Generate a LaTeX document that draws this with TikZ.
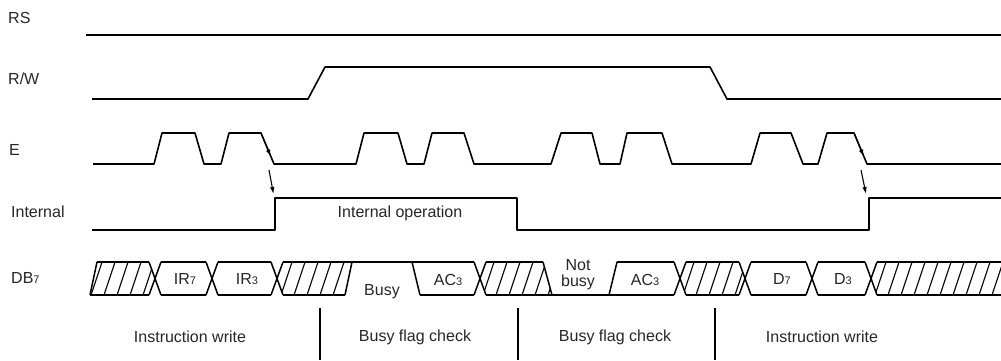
\documentclass[tikz,border=0pt]{standalone}
\usepackage{fontspec}
\setmainfont{Liberation Sans}
\usetikzlibrary{arrows.meta}
\newcommand\subd[1]{\raisebox{-0.6pt}{\fontsize{11}{11}\selectfont #1}}
\begin{document}
\begin{tikzpicture}[x=1pt,y=-1pt,
  sig/.style={line width=1.6pt, line join=round},
  busl/.style={line width=1.5pt, line join=round},
  hatchl/.style={line width=1.1pt},
  divl/.style={line width=1.3pt},
  lbl/.style={font=\fontsize{16}{19}\selectfont, inner sep=0pt, text=black!85},
  arr/.style={line width=1.1pt, -{Latex[length=7pt,width=4.5pt]}}]
\useasboundingbox (0,0) rectangle (1001,360);
\def\T{262}\def\B{295}\def\M{278.5}\def\dx{6}
% left labels
\node[lbl, anchor=west] (lrs) at (8,18) {RS};
\node[lbl, anchor=west] (lrw) at (8,79) {R/W};
\node[lbl, anchor=west] (le) at (9,150) {E};
\node[lbl, anchor=west] (lint) at (11,212) {Internal};
\node[lbl, anchor=west] (ldb) at (11,278) {DB\subd{7}};
% RS
\draw[sig] (86,35) -- (1001,35);
% R/W
\draw[sig] (92,99) -- (308,99) -- (325,67) -- (710,67) -- (727,99) -- (1001,99);
% E
\draw[sig] (93,164)
  -- (154,164) -- (162,133) -- (195,133) -- (204,164)
  -- (221,164) -- (229,133) -- (261,133) -- (274,164)
  -- (356,164) -- (364,133) -- (398,133) -- (407,164)
  -- (424,164) -- (432,133) -- (464,133) -- (474,164)
  -- (551,164) -- (561,133) -- (592,133) -- (600,164)
  -- (620,164) -- (627,133) -- (662,133) -- (672,164)
  -- (751,164) -- (760,133) -- (791,133) -- (803,164)
  -- (818,164) -- (827,133) -- (854,133) -- (867,164)
  -- (1001,164);
% Internal
\draw[sig] (92,230) -- (275,230) -- (275,198) -- (517,198) -- (517,230)
  -- (869,230) -- (869,198) -- (1001,198);
\node[lbl] (iop) at (400,213) {Internal operation};
% arrows E -> Internal
\coordinate (ea1) at (261,133); \coordinate (eb1) at (270.8,156.5);
\coordinate (ec1) at (269,170); \coordinate (ed1) at (273.5,194);
\draw[arr] (ea1) -- (eb1);
\draw[arr] (ec1) -- (ed1);
\coordinate (ea2) at (854,133); \coordinate (eb2) at (863.8,156.5);
\coordinate (ec2) at (861,170); \coordinate (ed2) at (866,194);
\draw[arr] (ea2) -- (eb2);
\draw[arr] (ec2) -- (ed2);
% DB7 bus
\def\ca{155}\def\cb{212}\def\cc{277}\def\cd{480}\def\ce{680}\def\cf{745}\def\cg{812}\def\ch{871}
% hatching
\begin{scope}
\clip (90,\B) -- (97,\T) -- (\ca-\dx,\T) -- (\ca,\M) -- (\ca-\dx,\B) -- cycle;
\foreach \k in {78,91,...,160} \draw[hatchl] (\k,\B) -- ++(11,-33);
\end{scope}
\begin{scope}
\clip (\cc,\M) -- (\cc+\dx,\T) -- (352,\T) -- (345,\B) -- (\cc+\dx,\B) -- cycle;
\foreach \k in {268,281,...,350} \draw[hatchl] (\k,\B) -- ++(11,-33);
\end{scope}
\begin{scope}
\clip (\cd,\M) -- (\cd+\dx,\T) -- (543,\T) -- (552,\B) -- (\cd+\dx,\B) -- cycle;
\foreach \k in {470,483,...,560} \draw[hatchl] (\k,\B) -- ++(11,-33);
\end{scope}
\begin{scope}
\clip (\ce,\M) -- (\ce+\dx,\T) -- (\cf-\dx,\T) -- (\cf,\M) -- (\cf-\dx,\B) -- (\ce+\dx,\B) -- cycle;
\foreach \k in {670,683,...,750} \draw[hatchl] (\k,\B) -- ++(11,-33);
\end{scope}
\begin{scope}
\clip (\ch,\M) -- (\ch+\dx,\T) -- (1001,\T) -- (1001,\B) -- (\ch+\dx,\B) -- cycle;
\foreach \k in {862,875,...,1005} \draw[hatchl] (\k,\B) -- ++(11,-33);
\end{scope}
% top line
\draw[busl] (97,\T) -- (\ca-\dx,\T);
\draw[busl] (\ca+\dx,\T) -- (\cb-\dx,\T);
\draw[busl] (\cb+\dx,\T) -- (\cc-\dx,\T);
\draw[busl] (\cc+\dx,\T) -- (\cd-\dx,\T);
\draw[busl] (\cd+\dx,\T) -- (543,\T);
\draw[busl] (617,\T) -- (\ce-\dx,\T);
\draw[busl] (\ce+\dx,\T) -- (\cf-\dx,\T);
\draw[busl] (\cf+\dx,\T) -- (\cg-\dx,\T);
\draw[busl] (\cg+\dx,\T) -- (\ch-\dx,\T);
\draw[busl] (\ch+\dx,\T) -- (1001,\T);
% bottom line
\draw[busl] (90,\B) -- (\ca-\dx,\B);
\draw[busl] (\ca+\dx,\B) -- (\cb-\dx,\B);
\draw[busl] (\cb+\dx,\B) -- (\cc-\dx,\B);
\draw[busl] (\cc+\dx,\B) -- (345,\B);
\draw[busl] (420,\B) -- (\cd-\dx,\B);
\draw[busl] (\cd+\dx,\B) -- (\ce-\dx,\B);
\draw[busl] (\ce+\dx,\B) -- (\cf-\dx,\B);
\draw[busl] (\cf+\dx,\B) -- (\cg-\dx,\B);
\draw[busl] (\cg+\dx,\B) -- (\ch-\dx,\B);
\draw[busl] (\ch+\dx,\B) -- (1001,\B);
% crosses
\foreach \c in {\ca,\cb,\cc,\cd,\ce,\cf,\cg,\ch} {
  \draw[busl] (\c-\dx,\T) -- (\c+\dx,\B);
  \draw[busl] (\c-\dx,\B) -- (\c+\dx,\T);
}
% slants
\draw[busl] (90,\B) -- (97,\T);
\draw[busl] (345,\B) -- (352,\T);
\draw[busl] (412,\T) -- (420,\B);
\draw[busl] (543,\T) -- (552,\B);
\draw[busl] (609,\B) -- (617,\T);
% bus texts
\node[lbl] (tir7) at (185,279) {IR\subd{7}};
\node[lbl] (tir3) at (247,279) {IR\subd{3}};
\node[lbl] (tbusy) at (382,292) {Busy};
\node[lbl] (tac1) at (448,280) {AC\subd{3}};
\node[lbl] (tnot) at (578,265) {Not};
\node[lbl] (tnbusy) at (578,282) {busy};
\node[lbl] (tac2) at (645,280) {AC\subd{3}};
\node[lbl] (td7) at (782,279) {D\subd{7}};
\node[lbl] (td3) at (843,279) {D\subd{3}};
% dividers
\coordinate (d1a) at (320,308); \coordinate (d1b) at (320,360);
\coordinate (d2a) at (518,308); \coordinate (d2b) at (518,360);
\coordinate (d3a) at (715,308); \coordinate (d3b) at (715,360);
\draw[divl] (d1a) -- (d1b);
\draw[divl] (d2a) -- (d2b);
\draw[divl] (d3a) -- (d3b);
% phase labels
\node[lbl] (p1) at (190,337) {Instruction write};
\node[lbl] (p2) at (415,337) {Busy flag check};
\node[lbl] (p3) at (615,337) {Busy flag check};
\node[lbl] (p4) at (822,337) {Instruction write};
\end{tikzpicture}
\end{document}
